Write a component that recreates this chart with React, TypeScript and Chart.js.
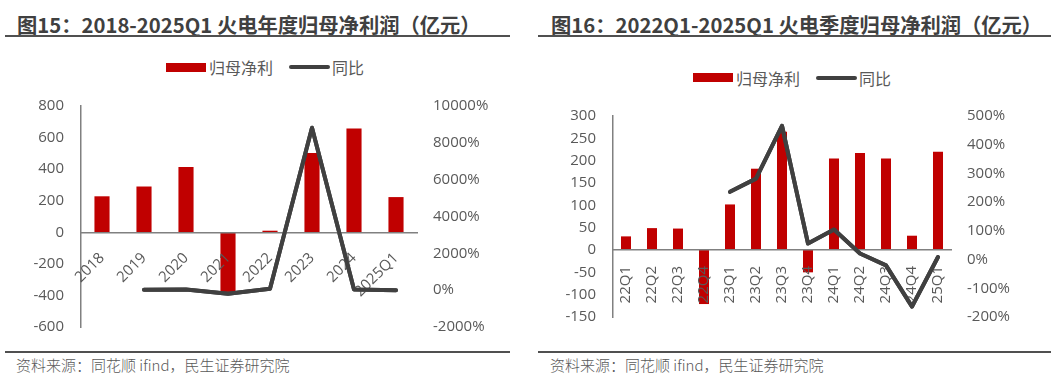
import React, { useEffect, useRef } from "react";
import { Chart, registerables } from "chart.js";

Chart.register(...registerables);

// ---- Data: figure 15 (annual) ----
const annualCategories = ["2018", "2019", "2020", "2021", "2022", "2023", "2024", "2025Q1"];
const annualProfit = [228, 290, 413, -378, 10, 502, 658, 223];
const annualYoY = [null, 27, 40, -200, 75, 8820, 31, 0];
const annualLeftTicks = { min: -600, max: 800, step: 200 };
const annualRightTicks = { min: -2000, max: 10000, step: 2000 };

// ---- Data: figure 16 (quarterly) ----
const quarterCategories = ["22Q1", "22Q2", "22Q3", "22Q4", "23Q1", "23Q2", "23Q3", "23Q4", "24Q1", "24Q2", "24Q3", "24Q4", "25Q1"];
const quarterProfit = [30.5, 49, 48, -121, 102, 182, 265, -50, 205, 217, 205, 32, 220];
const quarterYoY = [null, null, null, null, 236, 282, 466, 56, 105, 21, -20, -164, 9];
const quarterLeftTicks = { min: -150, max: 300, step: 50 };
const quarterRightTicks = { min: -200, max: 500, step: 100 };

const seriesNames = ["归母净利", "同比"];

const BAR_COLOR = "#C00000";
const LINE_COLOR = "#404040";
const AXIS_COLOR = "#808080";
const TICK_COLOR = "#595959";
const TICK_FONT = { family: "'Open Sans', 'Noto Sans', sans-serif", size: 15 };
const CJK = "'Noto Sans CJK SC', 'Noto Sans', sans-serif";

type PanelOpts = {
  labels: string[];
  bars: number[];
  yoy: (number | null)[];
  left: { min: number; max: number; step: number };
  right: { min: number; max: number; step: number };
  leftW: number;
  rightW: number;
  padTop: number;
  padBottom: number;
  rotation: number;
  xPad: number;
  barPct: number;
};

// Redraw the YoY line after the category labels so the order is bars < labels < line
const lineOnTop = {
  id: "lineOnTop",
  afterDraw(chart: any) {
    const meta = chart.getDatasetMeta(0);
    if (meta && meta.controller) {
      chart.ctx.save();
      meta.controller.draw();
      chart.ctx.restore();
    }
  },
};

function buildConfig(p: PanelOpts): any {
  const noVPad = (s: any) => {
    s.paddingTop = 0;
    s.paddingBottom = 0;
  };
  return {
    type: "bar",
    plugins: [lineOnTop],
    data: {
      labels: p.labels,
      datasets: [
        {
          type: "line",
          label: seriesNames[1],
          data: p.yoy,
          yAxisID: "y1",
          borderColor: LINE_COLOR,
          borderWidth: 4,
          pointRadius: 0,
          pointHoverRadius: 0,
          borderJoinStyle: "round",
          borderCapStyle: "round",
          tension: 0,
          order: 0,
        },
        {
          type: "bar",
          label: seriesNames[0],
          data: p.bars,
          yAxisID: "y",
          backgroundColor: BAR_COLOR,
          barPercentage: p.barPct,
          categoryPercentage: 1,
          order: 1,
        },
      ],
    },
    options: {
      responsive: false,
      animation: false,
      devicePixelRatio: 1,
      layout: { padding: { top: p.padTop, bottom: p.padBottom, left: 0, right: 0 } },
      plugins: { legend: { display: false }, tooltip: { enabled: false } },
      scales: {
        x: {
          position: { y: 0 },
          offset: true,
          grid: { display: false, drawTicks: false },
          border: { display: true, color: AXIS_COLOR, width: 1.5, z: 1 },
          ticks: {
            z: 1,
            autoSkip: false,
            minRotation: p.rotation,
            maxRotation: p.rotation,
            padding: p.xPad,
            color: TICK_COLOR,
            font: TICK_FONT,
          },
        },
        y: {
          position: "left",
          min: p.left.min,
          max: p.left.max,
          grid: { display: false, drawTicks: false },
          border: { display: true, color: AXIS_COLOR, width: 1.5 },
          ticks: { stepSize: p.left.step, padding: 17, color: TICK_COLOR, font: TICK_FONT },
          afterFit: (s: any) => {
            s.width = p.leftW;
            noVPad(s);
          },
        },
        y1: {
          position: "right",
          min: p.right.min,
          max: p.right.max,
          grid: { display: false, drawTicks: false },
          border: { display: false },
          ticks: {
            stepSize: p.right.step,
            padding: 16,
            color: TICK_COLOR,
            font: TICK_FONT,
            callback: (v: any) => v + "%",
          },
          afterFit: (s: any) => {
            s.width = p.rightW;
            noVPad(s);
          },
        },
      },
    },
  };
}

function ChartCanvas({ opts, width, height }: { opts: PanelOpts; width: number; height: number }) {
  const ref = useRef<HTMLCanvasElement | null>(null);
  useEffect(() => {
    if (!ref.current) return;
    const chart = new Chart(ref.current, buildConfig(opts));
    return () => chart.destroy();
  }, []);
  return <canvas ref={ref} width={width} height={height} style={{ width, height, display: "block" }} />;
}

function Legend({ left, top }: { left: number; top: number }) {
  const text: React.CSSProperties = {
    position: "absolute",
    fontFamily: CJK,
    fontSize: 16,
    color: TICK_COLOR,
    lineHeight: "20px",
    top: -10,
    whiteSpace: "nowrap",
  };
  return (
    <div style={{ position: "absolute", left, top, width: 0, height: 0 }}>
      <div style={{ position: "absolute", left: 0, top: -4.5, width: 40, height: 9, background: BAR_COLOR }} />
      <div style={{ ...text, left: 43 }}>{seriesNames[0]}</div>
      <div style={{ position: "absolute", left: 123, top: -2, width: 41, height: 4, borderRadius: 2, background: LINE_COLOR }} />
      <div style={{ ...text, left: 166 }}>{seriesNames[1]}</div>
    </div>
  );
}

function Panel({
  x,
  width,
  title,
  titleX,
  ruleX,
  ruleW,
  legendX,
  legendY,
  opts,
}: {
  x: number;
  width: number;
  title: string;
  titleX: number;
  ruleX: number;
  ruleW: number;
  legendX: number;
  legendY: number;
  opts: PanelOpts;
}) {
  return (
    <>
      <div
        style={{
          position: "absolute",
          left: titleX,
          top: 12,
          fontFamily: CJK,
          fontWeight: 700,
          fontSize: 20.3,
          lineHeight: "24px",
          color: "#404040",
          whiteSpace: "nowrap",
        }}
      >
        {title}
      </div>
      <div style={{ position: "absolute", left: ruleX, top: 34.5, width: ruleW, height: 2, background: "#505050" }} />
      <Legend left={legendX} top={legendY} />
      <div style={{ position: "absolute", left: x, top: 90 }}>
        <ChartCanvas opts={opts} width={width} height={250} />
      </div>
      <div style={{ position: "absolute", left: ruleX, top: 350.5, width: ruleW, height: 2, background: "#505050" }} />
      <div
        style={{
          position: "absolute",
          left: titleX - 1,
          top: 355,
          fontFamily: CJK,
          fontWeight: 300,
          fontSize: 15,
          lineHeight: "20px",
          color: TICK_COLOR,
          whiteSpace: "nowrap",
        }}
      >
        资料来源：同花顺 ifind，民生证券研究院
      </div>
    </>
  );
}

export default function App() {
  const annualOpts: PanelOpts = {
    labels: annualCategories,
    bars: annualProfit,
    yoy: annualYoY,
    left: annualLeftTicks,
    right: annualRightTicks,
    leftW: 81,
    rightW: 108,
    padTop: 16,
    padBottom: 13,
    rotation: 45,
    xPad: 17,
    barPct: 0.36,
  };
  const quarterOpts: PanelOpts = {
    labels: quarterCategories,
    bars: quarterProfit,
    yoy: quarterYoY,
    left: quarterLeftTicks,
    right: quarterRightTicks,
    leftW: 88,
    rightW: 100,
    padTop: 26,
    padBottom: 23,
    rotation: 90,
    xPad: 16,
    barPct: 0.385,
  };
  return (
    <div
      style={{
        position: "fixed",
        left: 0,
        top: 0,
        width: 1051,
        height: 376,
        background: "#fff",
        overflow: "hidden",
      }}
    >
      <Panel
        x={0}
        width={525}
        title="图15：2018-2025Q1 火电年度归母净利润（亿元）"
        titleX={17}
        ruleX={5}
        ruleW={505}
        legendX={166}
        legendY={67}
        opts={annualOpts}
      />
      <Panel
        x={525}
        width={526}
        title="图16：2022Q1-2025Q1 火电季度归母净利润（亿元）"
        titleX={551}
        ruleX={538}
        ruleW={513}
        legendX={693}
        legendY={77.5}
        opts={quarterOpts}
      />
    </div>
  );
}
